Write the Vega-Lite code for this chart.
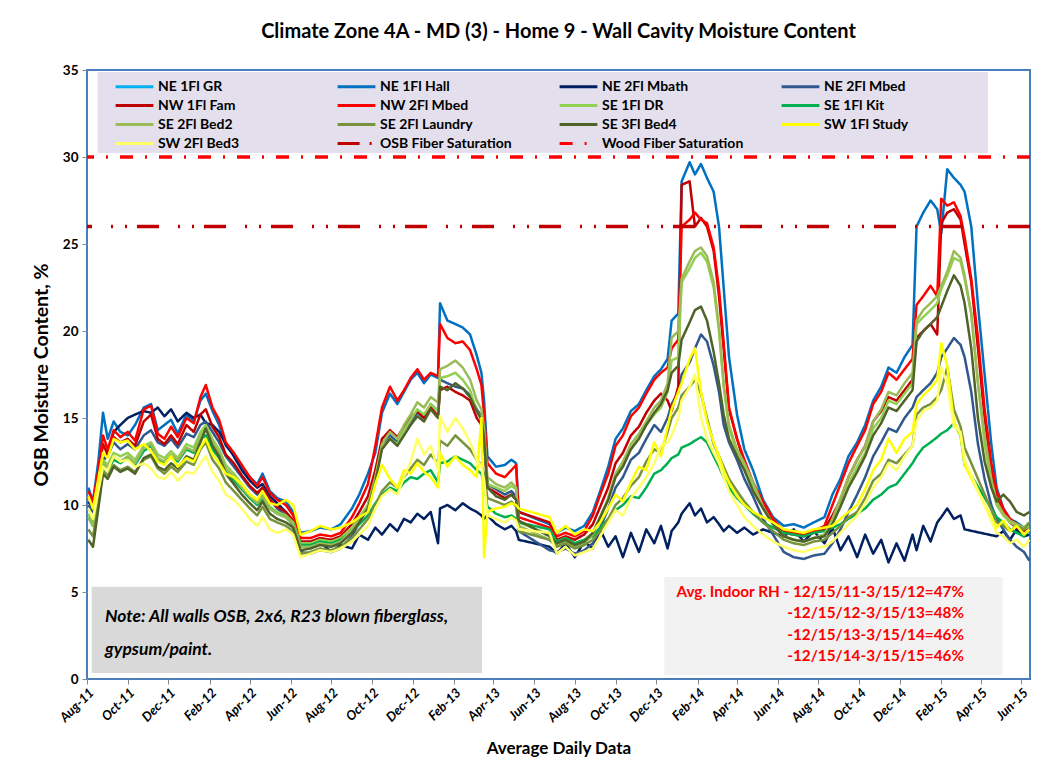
{
"$schema":"https://vega.github.io/schema/vega-lite/v6.json",
"width":943,"height":609,
"autosize":{"type":"none"},
"padding":{"left":87,"top":70,"right":17,"bottom":89},
"background":"white",
"title":{"text":"Climate Zone 4A - MD (3) - Home 9 - Wall Cavity Moisture Content","font":"Lato","fontSize":20,"fontWeight":"bold","color":"#000","offset":21,"anchor":"middle"},
"config":{"view":{"stroke":"#4A7EBB","strokeWidth":2},"font":"Lato"},
"datasets":{
"names":[{"k":"H","series":"NE 1Fl Hall"},{"k":"Mb","series":"NE 2Fl Mbath"},{"k":"Md","series":"NE 2Fl Mbed"},{"k":"F","series":"NW 1Fl Fam"},{"k":"R","series":"NW 2Fl Mbed"},{"k":"DR","series":"SE 1Fl DR"},{"k":"K","series":"SE 1Fl Kit"},{"k":"B2","series":"SE 2Fl Bed2"},{"k":"L","series":"SE 2Fl Laundry"},{"k":"B4","series":"SE 3Fl Bed4"},{"k":"S","series":"SW 1Fl Study"},{"k":"B3","series":"SW 2Fl Bed3"}],
"d":[
{"d":"2011-08-03","H":11.0,"Mb":10.2,"Md":10.0,"F":10.5,"R":10.8,"DR":9.5,"K":9.3,"B2":9.3,"L":8.6,"B4":8.0,"S":10.5,"B3":9.8},
{"d":"2011-08-10","H":10.2,"Mb":9.8,"Md":9.6,"F":9.9,"R":10.2,"DR":9.0,"K":8.8,"B2":8.8,"L":8.2,"B4":7.6,"S":9.8,"B3":9.2},
{"d":"2011-08-18","H":12.5,"Mb":11.5,"Md":11.0,"F":11.8,"R":12.0,"DR":10.8,"K":10.5,"B2":10.6,"L":10.0,"B4":9.8,"S":11.5,"B3":10.8},
{"d":"2011-08-25","H":15.3,"Mb":12.5,"Md":12.6,"F":13.5,"R":14.0,"DR":12.6,"K":12.3,"B2":12.4,"L":12.0,"B4":11.8,"S":13.0,"B3":12.2},
{"d":"2011-09-01","H":13.8,"Mb":13.0,"Md":12.8,"F":12.9,"R":13.2,"DR":12.3,"K":12.0,"B2":12.2,"L":11.7,"B4":11.5,"S":12.7,"B3":12.0},
{"d":"2011-09-10","H":14.8,"Mb":14.2,"Md":13.6,"F":13.9,"R":14.3,"DR":13.0,"K":12.6,"B2":12.8,"L":12.3,"B4":12.2,"S":13.8,"B3":12.8},
{"d":"2011-09-20","H":14.2,"Mb":14.6,"Md":13.2,"F":13.6,"R":13.9,"DR":12.8,"K":12.4,"B2":12.5,"L":12.0,"B4":11.9,"S":13.6,"B3":12.5},
{"d":"2011-10-01","H":14.0,"Mb":15.0,"Md":13.5,"F":13.8,"R":14.2,"DR":13.0,"K":12.7,"B2":12.8,"L":12.2,"B4":12.1,"S":13.7,"B3":12.6},
{"d":"2011-10-12","H":14.6,"Mb":15.2,"Md":13.2,"F":13.4,"R":13.7,"DR":12.6,"K":12.3,"B2":12.4,"L":11.9,"B4":11.8,"S":13.2,"B3":12.2},
{"d":"2011-10-25","H":15.6,"Mb":15.4,"Md":14.0,"F":14.8,"R":15.5,"DR":13.4,"K":13.1,"B2":13.3,"L":12.6,"B4":12.7,"S":13.5,"B3":12.4},
{"d":"2011-11-05","H":15.8,"Mb":15.3,"Md":14.3,"F":15.2,"R":15.7,"DR":13.6,"K":13.4,"B2":13.5,"L":12.8,"B4":12.9,"S":13.1,"B3":12.1},
{"d":"2011-11-15","H":14.3,"Mb":15.6,"Md":13.6,"F":13.8,"R":14.1,"DR":12.9,"K":12.6,"B2":12.7,"L":12.1,"B4":12.2,"S":12.5,"B3":11.6},
{"d":"2011-11-25","H":14.6,"Mb":15.1,"Md":13.4,"F":13.5,"R":13.8,"DR":12.7,"K":12.4,"B2":12.5,"L":11.8,"B4":12.0,"S":12.3,"B3":11.5},
{"d":"2011-12-05","H":14.9,"Mb":15.5,"Md":13.8,"F":14.0,"R":14.5,"DR":13.1,"K":12.8,"B2":12.9,"L":12.2,"B4":12.4,"S":12.8,"B3":11.9},
{"d":"2011-12-15","H":14.1,"Mb":14.8,"Md":13.3,"F":13.5,"R":13.9,"DR":12.7,"K":12.5,"B2":12.6,"L":11.9,"B4":12.1,"S":12.2,"B3":11.4},
{"d":"2011-12-28","H":15.2,"Mb":15.3,"Md":14.1,"F":14.6,"R":15.0,"DR":13.5,"K":13.2,"B2":13.3,"L":12.5,"B4":12.8,"S":12.7,"B3":11.9},
{"d":"2012-01-08","H":14.8,"Mb":15.0,"Md":13.9,"F":14.2,"R":14.7,"DR":13.3,"K":13.0,"B2":13.1,"L":12.3,"B4":12.6,"S":12.5,"B3":11.8},
{"d":"2012-01-18","H":16.0,"Mb":15.2,"Md":14.6,"F":15.2,"R":16.2,"DR":14.2,"K":13.8,"B2":14.0,"L":13.2,"B4":13.6,"S":13.3,"B3":12.4},
{"d":"2012-01-26","H":16.4,"Mb":14.7,"Md":14.8,"F":15.5,"R":16.9,"DR":14.6,"K":14.0,"B2":14.4,"L":13.6,"B4":14.4,"S":13.8,"B3":12.8},
{"d":"2012-02-05","H":15.4,"Mb":14.6,"Md":14.2,"F":14.5,"R":15.6,"DR":13.8,"K":13.2,"B2":13.6,"L":12.6,"B4":13.4,"S":12.9,"B3":11.9},
{"d":"2012-02-15","H":14.6,"Mb":14.2,"Md":13.6,"F":13.9,"R":14.9,"DR":13.2,"K":12.7,"B2":13.0,"L":12.1,"B4":12.8,"S":12.4,"B3":11.4},
{"d":"2012-02-25","H":13.4,"Mb":13.5,"Md":12.8,"F":12.9,"R":13.6,"DR":12.3,"K":11.9,"B2":12.1,"L":11.3,"B4":11.8,"S":11.8,"B3":10.6},
{"d":"2012-03-08","H":12.9,"Mb":12.8,"Md":12.2,"F":12.4,"R":13.0,"DR":11.8,"K":11.4,"B2":11.6,"L":10.8,"B4":11.2,"S":11.6,"B3":10.3},
{"d":"2012-03-20","H":12.2,"Mb":12.0,"Md":11.6,"F":11.7,"R":12.3,"DR":11.2,"K":10.9,"B2":11.0,"L":10.3,"B4":10.6,"S":11.2,"B3":9.8},
{"d":"2012-04-01","H":11.6,"Mb":11.4,"Md":11.0,"F":11.1,"R":11.6,"DR":10.6,"K":10.4,"B2":10.5,"L":9.8,"B4":10.1,"S":10.6,"B3":9.2},
{"d":"2012-04-12","H":11.2,"Mb":11.0,"Md":10.6,"F":10.7,"R":11.1,"DR":10.2,"K":10.0,"B2":10.1,"L":9.4,"B4":9.7,"S":10.3,"B3":8.8},
{"d":"2012-04-20","H":11.8,"Mb":11.2,"Md":11.0,"F":11.0,"R":11.6,"DR":10.6,"K":10.4,"B2":10.5,"L":9.9,"B4":10.2,"S":10.8,"B3":9.3},
{"d":"2012-05-01","H":10.8,"Mb":10.5,"Md":10.3,"F":10.3,"R":10.7,"DR":9.9,"K":9.8,"B2":9.8,"L":9.2,"B4":9.5,"S":10.1,"B3":8.6},
{"d":"2012-05-12","H":10.4,"Mb":10.1,"Md":9.8,"F":9.9,"R":10.3,"DR":9.6,"K":9.5,"B2":9.5,"L":9.0,"B4":9.2,"S":10.0,"B3":8.4},
{"d":"2012-05-25","H":10.2,"Mb":9.6,"Md":9.4,"F":9.6,"R":10.0,"DR":9.4,"K":9.3,"B2":9.3,"L":8.8,"B4":9.0,"S":10.3,"B3":8.6},
{"d":"2012-06-05","H":9.6,"Mb":9.0,"Md":8.8,"F":9.1,"R":9.4,"DR":9.0,"K":8.9,"B2":8.9,"L":8.5,"B4":8.7,"S":10.0,"B3":8.3},
{"d":"2012-06-16","H":8.4,"Mb":7.8,"Md":7.3,"F":7.9,"R":8.1,"DR":7.8,"K":7.7,"B2":7.6,"L":7.2,"B4":7.4,"S":8.3,"B3":7.0},
{"d":"2012-07-01","H":8.5,"Mb":7.6,"Md":7.2,"F":7.9,"R":8.1,"DR":7.8,"K":7.7,"B2":7.6,"L":7.3,"B4":7.5,"S":8.5,"B3":7.2},
{"d":"2012-07-15","H":8.7,"Mb":7.9,"Md":7.4,"F":8.1,"R":8.3,"DR":8.0,"K":7.9,"B2":7.8,"L":7.5,"B4":7.7,"S":8.8,"B3":7.4},
{"d":"2012-08-01","H":8.6,"Mb":7.3,"Md":7.3,"F":8.0,"R":8.2,"DR":7.9,"K":7.8,"B2":7.7,"L":7.4,"B4":7.6,"S":8.6,"B3":7.3},
{"d":"2012-08-15","H":8.9,"Mb":7.7,"Md":7.5,"F":8.2,"R":8.4,"DR":8.1,"K":8.0,"B2":7.9,"L":7.6,"B4":7.8,"S":8.7,"B3":7.5},
{"d":"2012-09-01","H":9.8,"Mb":7.5,"Md":8.2,"F":8.9,"R":9.3,"DR":8.7,"K":8.5,"B2":8.6,"L":8.1,"B4":8.4,"S":9.0,"B3":7.9},
{"d":"2012-09-12","H":10.6,"Mb":8.3,"Md":9.0,"F":9.6,"R":10.1,"DR":9.3,"K":8.9,"B2":9.2,"L":8.6,"B4":9.0,"S":9.3,"B3":8.3},
{"d":"2012-09-25","H":11.8,"Mb":8.0,"Md":10.0,"F":10.5,"R":11.2,"DR":10.0,"K":9.4,"B2":10.0,"L":9.2,"B4":9.8,"S":9.6,"B3":8.8},
{"d":"2012-10-06","H":13.0,"Mb":8.7,"Md":11.5,"F":12.0,"R":13.4,"DR":11.5,"K":10.1,"B2":11.6,"L":10.0,"B4":11.3,"S":11.2,"B3":9.8},
{"d":"2012-10-16","H":15.3,"Mb":8.3,"Md":13.5,"F":13.8,"R":15.6,"DR":13.3,"K":10.6,"B2":13.5,"L":10.8,"B4":13.2,"S":12.3,"B3":10.5},
{"d":"2012-10-28","H":16.4,"Mb":8.9,"Md":14.0,"F":14.3,"R":16.8,"DR":13.8,"K":11.0,"B2":14.2,"L":11.3,"B4":13.8,"S":11.5,"B3":10.9},
{"d":"2012-11-08","H":15.8,"Mb":8.5,"Md":13.6,"F":13.9,"R":16.0,"DR":13.5,"K":10.8,"B2":13.8,"L":11.0,"B4":13.4,"S":11.0,"B3":10.6},
{"d":"2012-11-18","H":16.5,"Mb":9.2,"Md":14.3,"F":14.5,"R":16.6,"DR":14.3,"K":11.3,"B2":14.6,"L":11.6,"B4":14.0,"S":12.0,"B3":11.6},
{"d":"2012-11-28","H":17.2,"Mb":9.0,"Md":14.8,"F":15.0,"R":17.3,"DR":14.9,"K":11.6,"B2":15.2,"L":12.1,"B4":14.6,"S":11.8,"B3":12.5},
{"d":"2012-12-08","H":17.6,"Mb":9.5,"Md":15.3,"F":15.4,"R":17.8,"DR":15.5,"K":11.5,"B2":15.9,"L":12.6,"B4":15.1,"S":12.4,"B3":13.8},
{"d":"2012-12-18","H":17.0,"Mb":9.2,"Md":15.0,"F":15.0,"R":17.2,"DR":15.2,"K":11.8,"B2":15.6,"L":12.3,"B4":14.8,"S":11.9,"B3":12.9},
{"d":"2012-12-28","H":17.5,"Mb":9.6,"Md":15.8,"F":15.6,"R":17.6,"DR":15.8,"K":12.0,"B2":16.2,"L":12.9,"B4":15.5,"S":11.6,"B3":13.4},
{"d":"2013-01-08","H":17.3,"Mb":7.8,"Md":15.4,"F":15.1,"R":17.4,"DR":15.4,"K":11.3,"B2":15.9,"L":12.4,"B4":15.0,"S":11.0,"B3":12.0},
{"d":"2013-01-11","H":21.6,"Mb":9.8,"Md":17.2,"F":16.6,"R":20.4,"DR":17.3,"K":12.4,"B2":17.8,"L":13.7,"B4":16.8,"S":13.0,"B3":15.1},
{"d":"2013-01-22","H":20.6,"Mb":10.0,"Md":17.0,"F":16.8,"R":19.6,"DR":17.4,"K":12.5,"B2":18.0,"L":13.4,"B4":16.6,"S":12.2,"B3":14.2},
{"d":"2013-02-03","H":20.4,"Mb":9.7,"Md":16.8,"F":16.5,"R":19.3,"DR":17.6,"K":12.8,"B2":18.3,"L":14.0,"B4":17.0,"S":12.8,"B3":15.0},
{"d":"2013-02-14","H":20.2,"Mb":10.1,"Md":16.7,"F":16.3,"R":19.4,"DR":17.2,"K":12.6,"B2":17.9,"L":13.6,"B4":16.7,"S":12.3,"B3":14.4},
{"d":"2013-02-25","H":19.8,"Mb":9.8,"Md":16.3,"F":16.0,"R":18.9,"DR":16.6,"K":12.4,"B2":17.2,"L":13.2,"B4":16.2,"S":12.0,"B3":13.6},
{"d":"2013-03-07","H":18.6,"Mb":9.6,"Md":15.5,"F":15.0,"R":17.8,"DR":15.4,"K":12.0,"B2":16.0,"L":12.6,"B4":15.4,"S":11.6,"B3":12.6},
{"d":"2013-03-14","H":17.6,"Mb":9.4,"Md":15.1,"F":14.6,"R":16.9,"DR":15.0,"K":11.8,"B2":15.5,"L":12.3,"B4":14.9,"S":15.0,"B3":12.2},
{"d":"2013-03-18","H":16.0,"Mb":9.2,"Md":14.0,"F":13.6,"R":15.2,"DR":14.0,"K":11.2,"B2":14.4,"L":11.8,"B4":13.8,"S":7.0,"B3":11.4},
{"d":"2013-03-23","H":12.8,"Mb":9.4,"Md":11.2,"F":11.0,"R":12.4,"DR":11.2,"K":9.9,"B2":11.6,"L":10.4,"B4":11.0,"S":9.6,"B3":9.4},
{"d":"2013-04-05","H":12.2,"Mb":8.9,"Md":10.9,"F":10.7,"R":11.8,"DR":11.0,"K":9.5,"B2":11.2,"L":10.2,"B4":10.5,"S":9.8,"B3":9.2},
{"d":"2013-04-18","H":12.3,"Mb":8.6,"Md":10.6,"F":10.4,"R":11.6,"DR":10.8,"K":9.3,"B2":11.0,"L":10.0,"B4":10.3,"S":9.9,"B3":9.0},
{"d":"2013-04-28","H":12.6,"Mb":8.8,"Md":10.8,"F":10.6,"R":12.0,"DR":11.1,"K":9.4,"B2":11.3,"L":10.2,"B4":10.6,"S":10.1,"B3":9.3},
{"d":"2013-05-05","H":12.4,"Mb":8.5,"Md":10.5,"F":10.3,"R":12.3,"DR":10.9,"K":9.2,"B2":11.0,"L":9.9,"B4":10.3,"S":10.0,"B3":9.1},
{"d":"2013-05-09","H":9.6,"Mb":8.0,"Md":8.5,"F":9.6,"R":9.3,"DR":9.0,"K":9.0,"B2":8.8,"L":8.5,"B4":9.1,"S":9.8,"B3":8.6},
{"d":"2013-06-24","H":8.9,"Mb":7.6,"Md":7.4,"F":9.0,"R":8.7,"DR":8.3,"K":8.6,"B2":8.0,"L":8.0,"B4":8.2,"S":9.3,"B3":8.4},
{"d":"2013-07-05","H":8.4,"Mb":7.2,"Md":7.3,"F":8.0,"R":8.2,"DR":7.9,"K":7.9,"B2":7.7,"L":7.6,"B4":7.8,"S":8.4,"B3":7.2},
{"d":"2013-07-18","H":8.7,"Mb":7.8,"Md":7.5,"F":8.2,"R":8.4,"DR":8.1,"K":8.1,"B2":7.9,"L":7.8,"B4":8.0,"S":8.8,"B3":7.6},
{"d":"2013-08-01","H":8.5,"Mb":7.0,"Md":7.2,"F":8.0,"R":8.2,"DR":7.8,"K":7.8,"B2":7.6,"L":7.5,"B4":7.7,"S":8.3,"B3":7.1},
{"d":"2013-08-15","H":8.8,"Mb":7.9,"Md":7.4,"F":8.3,"R":8.5,"DR":8.0,"K":8.0,"B2":7.8,"L":7.7,"B4":7.9,"S":8.6,"B3":7.3},
{"d":"2013-08-28","H":9.6,"Mb":7.5,"Md":7.8,"F":8.9,"R":9.4,"DR":8.4,"K":8.2,"B2":8.3,"L":8.0,"B4":8.4,"S":8.5,"B3":7.5},
{"d":"2013-09-08","H":10.8,"Mb":8.6,"Md":8.7,"F":9.9,"R":10.6,"DR":9.3,"K":8.7,"B2":9.3,"L":8.5,"B4":9.3,"S":9.0,"B3":8.2},
{"d":"2013-09-20","H":12.2,"Mb":7.6,"Md":9.8,"F":11.0,"R":11.8,"DR":10.3,"K":9.2,"B2":10.4,"L":9.2,"B4":10.3,"S":9.8,"B3":9.0},
{"d":"2013-10-01","H":13.8,"Mb":8.2,"Md":11.0,"F":12.4,"R":13.4,"DR":11.7,"K":9.7,"B2":11.8,"L":10.0,"B4":11.6,"S":10.6,"B3":9.7},
{"d":"2013-10-12","H":14.4,"Mb":7.0,"Md":11.6,"F":13.0,"R":14.0,"DR":12.3,"K":10.0,"B2":12.5,"L":10.4,"B4":12.2,"S":10.2,"B3":9.4},
{"d":"2013-10-24","H":15.4,"Mb":8.4,"Md":12.6,"F":14.0,"R":15.1,"DR":13.3,"K":10.5,"B2":13.5,"L":11.1,"B4":13.2,"S":11.3,"B3":10.4},
{"d":"2013-11-05","H":15.8,"Mb":7.3,"Md":13.0,"F":14.5,"R":15.6,"DR":13.9,"K":10.4,"B2":14.1,"L":11.6,"B4":13.8,"S":12.2,"B3":11.0},
{"d":"2013-11-16","H":16.6,"Mb":8.6,"Md":13.8,"F":15.3,"R":16.4,"DR":14.6,"K":11.0,"B2":14.8,"L":12.5,"B4":14.6,"S":12.0,"B3":11.6},
{"d":"2013-11-28","H":17.4,"Mb":7.8,"Md":14.6,"F":16.0,"R":17.2,"DR":15.2,"K":11.8,"B2":15.6,"L":13.2,"B4":15.3,"S":13.6,"B3":12.4},
{"d":"2013-12-08","H":17.8,"Mb":8.8,"Md":14.2,"F":16.4,"R":17.6,"DR":15.6,"K":12.0,"B2":16.0,"L":13.0,"B4":15.8,"S":12.8,"B3":13.4},
{"d":"2013-12-18","H":18.4,"Mb":7.5,"Md":15.0,"F":16.0,"R":17.9,"DR":16.5,"K":12.4,"B2":17.0,"L":14.2,"B4":16.6,"S":14.5,"B3":13.6},
{"d":"2013-12-24","H":20.6,"Mb":8.5,"Md":15.8,"F":15.4,"R":19.0,"DR":18.3,"K":12.7,"B2":19.6,"L":15.0,"B4":17.6,"S":15.5,"B3":14.0},
{"d":"2014-01-03","H":21.0,"Mb":9.0,"Md":16.5,"F":16.8,"R":19.5,"DR":18.5,"K":12.9,"B2":20.0,"L":15.6,"B4":18.0,"S":16.5,"B3":15.0},
{"d":"2014-01-08","H":28.6,"Mb":9.5,"Md":17.5,"F":28.4,"R":26.0,"DR":22.8,"K":13.3,"B2":23.0,"L":16.3,"B4":19.5,"S":17.0,"B3":16.0},
{"d":"2014-01-20","H":29.7,"Mb":10.1,"Md":18.2,"F":28.6,"R":26.4,"DR":23.6,"K":13.5,"B2":24.0,"L":16.8,"B4":20.5,"S":18.4,"B3":16.8},
{"d":"2014-01-28","H":29.0,"Mb":9.4,"Md":19.0,"F":26.0,"R":26.8,"DR":24.2,"K":13.7,"B2":24.6,"L":17.2,"B4":21.2,"S":19.0,"B3":17.5},
{"d":"2014-02-06","H":29.6,"Mb":9.8,"Md":19.8,"F":26.5,"R":26.4,"DR":24.5,"K":13.9,"B2":24.8,"L":16.4,"B4":21.4,"S":16.5,"B3":15.0},
{"d":"2014-02-15","H":28.8,"Mb":9.0,"Md":19.4,"F":26.0,"R":26.2,"DR":24.0,"K":13.6,"B2":24.3,"L":15.0,"B4":20.6,"S":14.8,"B3":13.8},
{"d":"2014-02-25","H":28.0,"Mb":9.3,"Md":18.0,"F":24.6,"R":24.8,"DR":22.5,"K":12.8,"B2":22.8,"L":13.5,"B4":18.8,"S":13.6,"B3":13.0},
{"d":"2014-03-05","H":26.0,"Mb":8.9,"Md":16.5,"F":22.0,"R":22.4,"DR":20.0,"K":12.2,"B2":20.2,"L":12.8,"B4":17.0,"S":12.8,"B3":12.4},
{"d":"2014-03-12","H":22.5,"Mb":8.5,"Md":14.6,"F":19.0,"R":19.3,"DR":16.8,"K":11.6,"B2":17.0,"L":12.2,"B4":15.2,"S":12.0,"B3":11.6},
{"d":"2014-03-20","H":18.5,"Mb":8.8,"Md":13.6,"F":15.5,"R":15.6,"DR":14.4,"K":11.0,"B2":14.6,"L":11.5,"B4":13.8,"S":11.3,"B3":10.8},
{"d":"2014-04-01","H":15.2,"Mb":8.4,"Md":12.6,"F":13.8,"R":13.8,"DR":13.0,"K":10.4,"B2":13.2,"L":10.8,"B4":12.8,"S":10.5,"B3":10.0},
{"d":"2014-04-12","H":13.2,"Mb":8.7,"Md":11.5,"F":12.4,"R":12.6,"DR":12.2,"K":10.0,"B2":12.4,"L":10.2,"B4":12.0,"S":10.0,"B3":9.3},
{"d":"2014-04-25","H":12.0,"Mb":8.3,"Md":10.5,"F":11.2,"R":11.3,"DR":11.1,"K":9.5,"B2":11.3,"L":9.6,"B4":10.8,"S":9.6,"B3":8.8},
{"d":"2014-05-10","H":10.3,"Mb":8.6,"Md":9.2,"F":10.0,"R":10.2,"DR":9.8,"K":9.0,"B2":9.9,"L":9.0,"B4":9.8,"S":9.3,"B3":8.3},
{"d":"2014-05-25","H":9.3,"Mb":8.4,"Md":8.3,"F":9.0,"R":9.2,"DR":8.9,"K":8.7,"B2":8.9,"L":8.5,"B4":8.9,"S":9.0,"B3":7.9},
{"d":"2014-06-10","H":8.8,"Mb":8.2,"Md":7.3,"F":8.4,"R":8.5,"DR":8.2,"K":8.4,"B2":8.2,"L":8.0,"B4":8.2,"S":8.6,"B3":7.6},
{"d":"2014-06-25","H":8.9,"Mb":8.6,"Md":7.0,"F":8.3,"R":8.4,"DR":8.0,"K":8.3,"B2":8.0,"L":7.8,"B4":8.0,"S":8.5,"B3":7.4},
{"d":"2014-07-10","H":8.7,"Mb":7.9,"Md":6.9,"F":8.2,"R":8.3,"DR":7.9,"K":8.2,"B2":7.9,"L":7.7,"B4":7.9,"S":8.4,"B3":7.3},
{"d":"2014-07-25","H":9.0,"Mb":8.5,"Md":7.1,"F":8.4,"R":8.5,"DR":8.1,"K":8.4,"B2":8.1,"L":7.9,"B4":8.1,"S":8.6,"B3":7.5},
{"d":"2014-08-10","H":9.3,"Mb":7.8,"Md":7.2,"F":8.6,"R":8.8,"DR":8.3,"K":8.5,"B2":8.3,"L":8.0,"B4":8.2,"S":8.7,"B3":7.6},
{"d":"2014-08-22","H":10.6,"Mb":8.7,"Md":7.8,"F":9.4,"R":10.0,"DR":9.0,"K":8.7,"B2":9.2,"L":8.4,"B4":8.9,"S":8.8,"B3":7.9},
{"d":"2014-09-03","H":11.5,"Mb":7.4,"Md":8.6,"F":10.3,"R":11.2,"DR":10.0,"K":8.9,"B2":10.4,"L":8.8,"B4":9.9,"S":9.2,"B3":8.4},
{"d":"2014-09-15","H":12.8,"Mb":8.2,"Md":9.6,"F":11.6,"R":12.4,"DR":11.2,"K":9.2,"B2":11.6,"L":9.3,"B4":11.0,"S":9.6,"B3":8.9},
{"d":"2014-09-28","H":13.6,"Mb":7.0,"Md":10.6,"F":12.6,"R":13.4,"DR":12.2,"K":9.5,"B2":12.6,"L":9.6,"B4":11.9,"S":10.0,"B3":9.4},
{"d":"2014-10-10","H":14.6,"Mb":8.3,"Md":11.6,"F":13.4,"R":14.3,"DR":13.0,"K":9.8,"B2":13.4,"L":10.4,"B4":12.8,"S":10.9,"B3":10.1},
{"d":"2014-10-22","H":16.0,"Mb":7.2,"Md":12.8,"F":14.8,"R":15.8,"DR":14.4,"K":10.3,"B2":14.8,"L":11.4,"B4":14.0,"S":12.0,"B3":11.0},
{"d":"2014-11-03","H":16.8,"Mb":8.0,"Md":13.6,"F":15.4,"R":16.5,"DR":15.0,"K":10.6,"B2":15.5,"L":11.8,"B4":14.7,"S":12.6,"B3":11.6},
{"d":"2014-11-14","H":17.9,"Mb":6.7,"Md":14.4,"F":16.2,"R":17.6,"DR":16.0,"K":11.0,"B2":16.5,"L":12.6,"B4":15.6,"S":13.8,"B3":12.4},
{"d":"2014-11-26","H":17.6,"Mb":7.8,"Md":14.2,"F":16.0,"R":17.2,"DR":15.8,"K":11.2,"B2":16.3,"L":12.4,"B4":15.4,"S":13.0,"B3":12.0},
{"d":"2014-12-08","H":18.5,"Mb":6.8,"Md":15.0,"F":16.6,"R":17.8,"DR":16.4,"K":11.8,"B2":17.0,"L":12.9,"B4":16.0,"S":13.8,"B3":12.8},
{"d":"2014-12-20","H":19.2,"Mb":8.3,"Md":15.6,"F":17.2,"R":18.4,"DR":17.0,"K":12.4,"B2":17.6,"L":13.4,"B4":16.6,"S":14.2,"B3":13.4},
{"d":"2014-12-26","H":26.0,"Mb":7.4,"Md":16.2,"F":19.6,"R":21.5,"DR":20.4,"K":12.8,"B2":20.6,"L":15.2,"B4":19.4,"S":15.8,"B3":14.8},
{"d":"2015-01-05","H":26.8,"Mb":8.8,"Md":16.6,"F":20.0,"R":22.0,"DR":20.8,"K":13.3,"B2":21.2,"L":15.6,"B4":20.0,"S":16.3,"B3":15.4},
{"d":"2015-01-16","H":27.5,"Mb":7.9,"Md":17.0,"F":20.4,"R":22.6,"DR":21.2,"K":13.6,"B2":21.6,"L":15.8,"B4":20.4,"S":16.7,"B3":15.6},
{"d":"2015-01-26","H":27.0,"Mb":9.0,"Md":17.6,"F":19.8,"R":22.0,"DR":21.6,"K":13.9,"B2":22.0,"L":16.2,"B4":20.8,"S":17.2,"B3":16.0},
{"d":"2015-02-01","H":25.6,"Mb":9.3,"Md":18.5,"F":26.2,"R":27.6,"DR":22.4,"K":14.1,"B2":22.6,"L":16.6,"B4":21.4,"S":19.3,"B3":17.9},
{"d":"2015-02-10","H":29.3,"Mb":9.8,"Md":19.0,"F":26.8,"R":27.2,"DR":23.2,"K":14.3,"B2":23.4,"L":17.9,"B4":22.3,"S":18.0,"B3":17.0},
{"d":"2015-02-20","H":28.8,"Mb":9.2,"Md":19.6,"F":27.0,"R":27.4,"DR":24.2,"K":14.7,"B2":24.6,"L":15.5,"B4":23.2,"S":14.8,"B3":14.5},
{"d":"2015-03-02","H":28.4,"Mb":9.4,"Md":19.2,"F":26.4,"R":26.6,"DR":24.0,"K":14.0,"B2":24.2,"L":14.5,"B4":22.6,"S":14.0,"B3":14.2},
{"d":"2015-03-08","H":28.0,"Mb":8.6,"Md":18.5,"F":25.0,"R":25.4,"DR":23.0,"K":12.3,"B2":23.2,"L":13.3,"B4":21.6,"S":12.3,"B3":12.6},
{"d":"2015-03-18","H":26.0,"Md":16.5,"F":22.8,"R":23.0,"DR":21.0,"B2":21.0,"B4":19.0},
{"d":"2015-03-28","H":21.5,"Md":13.5,"F":19.0,"R":19.6,"DR":17.0,"B2":17.0,"B4":15.0},
{"d":"2015-04-07","H":17.5,"Md":11.5,"F":15.0,"R":15.5,"DR":13.5,"B2":14.0,"B4":12.5},
{"d":"2015-04-17","H":13.5,"Md":10.0,"F":12.0,"R":12.4,"DR":11.2,"B2":11.5,"B4":11.0},
{"d":"2015-04-25","H":11.0,"Mb":8.2,"Md":9.2,"F":10.4,"R":10.8,"DR":10.0,"K":9.3,"B2":10.2,"L":9.0,"B4":10.2,"S":8.7,"B3":8.4},
{"d":"2015-05-05","H":9.8,"Mb":8.5,"Md":8.6,"F":9.6,"R":9.8,"DR":9.4,"K":9.0,"B2":9.5,"L":8.8,"B4":10.6,"S":9.1,"B3":8.2},
{"d":"2015-05-15","H":9.2,"Mb":8.0,"Md":8.0,"F":9.0,"R":9.2,"DR":9.0,"K":8.6,"B2":9.1,"L":8.5,"B4":10.2,"S":8.5,"B3":7.8},
{"d":"2015-05-25","H":9.0,"Mb":8.6,"Md":7.6,"F":8.7,"R":8.9,"DR":8.8,"K":8.4,"B2":8.9,"L":8.8,"B4":9.6,"S":8.8,"B3":8.0},
{"d":"2015-06-05","H":8.7,"Mb":8.2,"Md":7.3,"F":8.5,"R":8.6,"DR":8.6,"K":8.2,"B2":8.7,"L":8.6,"B4":9.4,"S":8.3,"B3":7.6},
{"d":"2015-06-13","H":8.8,"Mb":8.3,"Md":6.8,"F":8.8,"R":8.9,"DR":8.8,"K":8.6,"B2":9.0,"L":9.0,"B4":9.6,"S":8.6,"B3":8.0}
],
"fiber":[{"series":"OSB Fiber Saturation","v":26},{"series":"Wood Fiber Saturation","v":30}]
},
"layer":[
{"data":{"values":[{}]},"mark":{"type":"rect","fill":"#E4DFEC"},
 "encoding":{"x":{"datum":{"year":2011,"month":8,"date":17},"type":"temporal"},"x2":{"datum":{"year":2015,"month":4,"date":12}},"y":{"datum":34.89,"type":"quantitative"},"y2":{"datum":30.23}}},
{"data":{"values":[{}]},"mark":{"type":"rect","fill":"#D9D9D9"},
 "encoding":{"x":{"datum":{"year":2011,"month":8,"date":8},"type":"temporal"},"x2":{"datum":{"year":2013,"month":3,"date":15}},"y":{"datum":5.3,"type":"quantitative"},"y2":{"datum":0.35}}},
{"data":{"values":[{}]},"mark":{"type":"rect","fill":"#F2F2F2"},
 "encoding":{"x":{"datum":{"year":2013,"month":12,"date":13},"type":"temporal"},"x2":{"datum":{"year":2015,"month":5,"date":4}},"y":{"datum":5.86,"type":"quantitative"},"y2":{"datum":0.23}}},
{"data":{"name":"d"},
 "transform":[{"fold":["H","Mb","Md","F","R","DR","K","B2","L","B4","S","B3"],"as":["k","value"]},{"filter":"datum.value != null"},{"lookup":"k","from":{"data":{"name":"names"},"key":"k","fields":["series"]}}],
 "mark":{"type":"line","strokeWidth":2.5,"strokeJoin":"round"},
 "encoding":{
  "x":{"field":"d","type":"temporal","scale":{"domain":[{"year":2011,"month":8,"date":1},{"year":2015,"month":6,"date":14}]},
   "axis":{"values":[{"year":2011,"month":8,"date":1},{"year":2011,"month":10,"date":1},{"year":2011,"month":12,"date":1},{"year":2012,"month":2,"date":1},{"year":2012,"month":4,"date":1},{"year":2012,"month":6,"date":1},{"year":2012,"month":8,"date":1},{"year":2012,"month":10,"date":1},{"year":2012,"month":12,"date":1},{"year":2013,"month":2,"date":1},{"year":2013,"month":4,"date":1},{"year":2013,"month":6,"date":1},{"year":2013,"month":8,"date":1},{"year":2013,"month":10,"date":1},{"year":2013,"month":12,"date":1},{"year":2014,"month":2,"date":1},{"year":2014,"month":4,"date":1},{"year":2014,"month":6,"date":1},{"year":2014,"month":8,"date":1},{"year":2014,"month":10,"date":1},{"year":2014,"month":12,"date":1},{"year":2015,"month":2,"date":1},{"year":2015,"month":4,"date":1},{"year":2015,"month":6,"date":1}],
   "format":"%b-%y","labelAngle":-45,"labelFont":"Lato","labelFontSize":13,"labelFontWeight":"bold","labelFontStyle":"italic","labelColor":"#000","tickSize":5,"tickColor":"#888","grid":false,"domain":false,"title":"Average Daily Data","titleFont":"Lato","titleFontSize":17,"titleFontWeight":"bold","titleColor":"#000","titlePadding":16,"labelPadding":2}},
  "y":{"field":"value","type":"quantitative","scale":{"domain":[0,35],"nice":false},
   "axis":{"values":[0,5,10,15,20,25,30,35],"labelFont":"Lato","labelFontSize":13.5,"labelFontWeight":"bold","labelColor":"#000","tickSize":5,"tickColor":"#888","gridColor":"#ADADAD","gridWidth":2,"domain":false,"title":"OSB Moisture Content, %","titleFont":"Lato","titleFontSize":19.5,"titleFontWeight":"bold","titleColor":"#000","titlePadding":11,"labelPadding":4}},
  "color":{"field":"series","type":"nominal","title":null,
   "scale":{"domain":["NE 1Fl GR","NE 1Fl Hall","NE 2Fl Mbath","NE 2Fl Mbed","NW 1Fl Fam","NW 2Fl Mbed","SE 1Fl DR","SE 1Fl Kit","SE 2Fl Bed2","SE 2Fl Laundry","SE 3Fl Bed4","SW 1Fl Study","SW 2Fl Bed3","OSB Fiber Saturation","Wood Fiber Saturation"],
    "range":["#00B0F0","#0070C0","#002060","#31588E","#C00000","#FF0000","#92D050","#00B050","#9BBB59","#77933C","#4F6228","#FFFF00","#FFFF66","#C00000","#FF0000"]},
   "legend":{"orient":"none","legendX":9,"legendY":2,"direction":"horizontal","columns":4,"padding":4,"gridAlign":"all","columnPadding":22,"rowPadding":1,"symbolType":"M-2.1,0H2.1","symbolSize":324,"symbolStrokeWidth":3,"symbolOffset":24,"labelOffset":13,"labelFont":"Lato","labelFontSize":14,"labelFontWeight":"bold","labelColor":"#000","labelLimit":300}},
  "strokeDash":{"field":"series","type":"nominal","title":null,
   "scale":{"domain":["NE 1Fl GR","NE 1Fl Hall","NE 2Fl Mbath","NE 2Fl Mbed","NW 1Fl Fam","NW 2Fl Mbed","SE 1Fl DR","SE 1Fl Kit","SE 2Fl Bed2","SE 2Fl Laundry","SE 3Fl Bed4","SW 1Fl Study","SW 2Fl Bed3","OSB Fiber Saturation","Wood Fiber Saturation"],
    "range":[[1,0],[1,0],[1,0],[1,0],[1,0],[1,0],[1,0],[1,0],[1,0],[1,0],[1,0],[1,0],[1,0],[22,10,2,12,2,19],[13,12,2,12]]}}
 }},
{"data":{"name":"fiber"},
 "mark":{"type":"rule","strokeWidth":3.5},
 "encoding":{"y":{"field":"v","type":"quantitative"},"color":{"field":"series","type":"nominal","title":null},"strokeDash":{"field":"series","type":"nominal","title":null}}},
{"data":{"values":[{}]},"mark":{"type":"text","text":["Note: All walls OSB, 2x6, R23 blown fiberglass,","gypsum/paint."],"align":"left","baseline":"top","font":"Lato","fontSize":17.5,"fontWeight":"bold","fontStyle":"italic","color":"#000","lineHeight":33},
 "encoding":{"x":{"datum":{"year":2011,"month":8,"date":28},"type":"temporal"},"y":{"datum":4.1,"type":"quantitative"}}},
{"data":{"values":[{}]},"mark":{"type":"text","text":["Avg. Indoor RH - 12/15/11-3/15/12=47%","-12/15/12-3/15/13=48%","-12/15/13-3/15/14=46%","-12/15/14-3/15/15=46%"],"align":"right","baseline":"top","font":"Lato","fontSize":15.3,"fontWeight":"bold","color":"#FF0000","lineHeight":21.3},
 "encoding":{"x":{"datum":{"year":2015,"month":3,"date":7},"type":"temporal"},"y":{"datum":5.4,"type":"quantitative"}}}
]
}
